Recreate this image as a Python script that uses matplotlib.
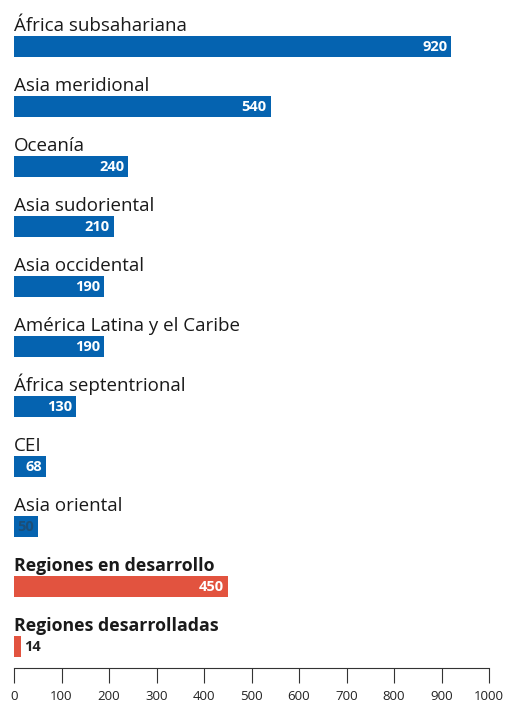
import matplotlib.pyplot as plt

# tasa de mortalidad materna por región
regiones = ['África subsahariana', 'Asia meridional', 'Oceanía', 'Asia sudoriental',
            'Asia occidental', 'América Latina y el Caribe', 'África septentrional',
            'CEI', 'Asia oriental', 'Regiones en desarrollo', 'Regiones desarrolladas']
valores = [920, 540, 240, 210, 190, 190, 130, 68, 50, 450, 14]
es_agregado = [False] * 9 + [True, True]

azul = '#0563b0'
rojo = '#e2533f'

plt.rcParams['font.family'] = ['Open Sans', 'DejaVu Sans']

fig = plt.figure(figsize=(5.06, 7.04), dpi=100)
ax = fig.add_axes([14 / 506, 36 / 704, 475 / 506, 668 / 704])

ys = list(range(len(regiones)))
colores = [rojo if a else azul for a in es_agregado]
ax.barh(ys, valores, height=0.35, color=colores, left=0)

for y, nombre, v, agr in zip(ys, regiones, valores, es_agregado):
    if agr:
        ax.text(0, y - 0.27, nombre, fontsize=12.8, color='#1a1a1a',
                fontweight='bold', va='baseline', ha='left')
    else:
        ax.text(0, y - 0.27, nombre, fontsize=13.5, color='#1a1a1a',
                va='baseline', ha='left')
    if v < 30:
        ax.text(v + 8, y, str(v), fontsize=10.5, fontweight='bold', color='#222222',
                va='center', ha='left')
    elif v < 60:
        ax.text(v - 8, y, str(v), fontsize=10.5, fontweight='bold', color='#1b4e78',
                va='center', ha='right')
    else:
        ax.text(v - 8, y, str(v), fontsize=10.5, fontweight='bold', color='white',
                va='center', ha='right')

ax.set_xlim(0, 1000)
ax.set_ylim(10.35, -0.783)
ax.set_xticks(range(0, 1001, 100))
ax.tick_params(axis='x', direction='out', length=11, width=0.8, color='#333333',
               labelsize=9.5, labelcolor='#222222', pad=5)
ax.tick_params(axis='y', left=False, labelleft=False)
for s in ['top', 'right', 'left']:
    ax.spines[s].set_visible(False)
ax.spines['bottom'].set_color('#333333')
ax.spines['bottom'].set_linewidth(0.8)

fig.savefig('out.png', dpi=100)
